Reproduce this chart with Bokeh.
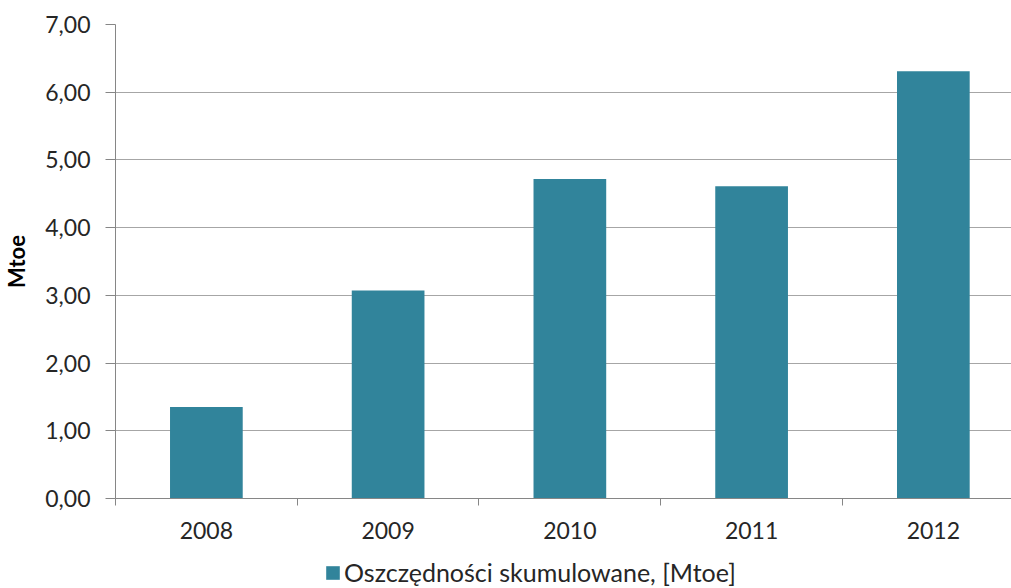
from bokeh.plotting import figure
from bokeh.layouts import column
from bokeh.models import ColumnDataSource, Range1d, FixedTicker, Legend, LegendItem
from bokeh.embed import file_html
from bokeh.resources import INLINE

years = ["2008", "2009", "2010", "2011", "2012"]
values = [1.35, 3.07, 4.72, 4.61, 6.31]
y_ticks = [0, 1, 2, 3, 4, 5, 6, 7]
y_labels = ["0,00", "1,00", "2,00", "3,00", "4,00", "5,00", "6,00", "7,00"]
series_name = "Oszczędności skumulowane, [Mtoe]"

FONT = "Lato"
BAR = "#31849b"
GRID = "#a6a6a6"
AXIS = "#868686"
TXT = "#262626"

centers = [i + 0.5 for i in range(len(years))]
src = ColumnDataSource(dict(x=centers, top=values))

p = figure(frame_width=896, frame_height=474, output_backend="svg", toolbar_location=None,
           x_range=Range1d(0, 4.93), y_range=Range1d(0, 7),
           min_border_left=115, min_border_top=24, min_border_right=0, min_border_bottom=60)
p.outline_line_color = None
p.background_fill_color = "white"

p.vbar(x="x", top="top", width=0.40, bottom=0, source=src, fill_color=BAR, line_color=None)

# y axis
p.yaxis.ticker = FixedTicker(ticks=y_ticks, minor_ticks=[])
p.yaxis.major_label_overrides = {t: l for t, l in zip(y_ticks, y_labels)}
p.yaxis.major_tick_out = 10
p.yaxis.major_tick_in = 0
p.yaxis.minor_tick_line_color = None
p.yaxis.axis_line_color = AXIS
p.yaxis.major_tick_line_color = AXIS
p.yaxis.major_label_text_font = FONT
p.yaxis.major_label_text_font_size = "23px"
p.yaxis.major_label_text_color = TXT
p.yaxis.major_label_standoff = 15
p.yaxis.axis_label = "Mtoe"
p.yaxis.axis_label_text_font = FONT
p.yaxis.axis_label_text_font_style = "bold"
p.yaxis.axis_label_text_font_size = "22px"
p.yaxis.axis_label_text_color = "black"
p.yaxis.axis_label_standoff = 12

# x axis
p.xaxis.ticker = FixedTicker(ticks=centers, minor_ticks=[0, 1, 2, 3, 4, 5])
p.xaxis.major_label_overrides = {c: y for c, y in zip(centers, years)}
p.xaxis.major_tick_line_color = None
p.xaxis.minor_tick_out = 7
p.xaxis.minor_tick_in = 0
p.xaxis.minor_tick_line_color = AXIS
p.xaxis.axis_line_color = AXIS
p.xaxis.major_label_text_font = FONT
p.xaxis.major_label_text_font_size = "23px"
p.xaxis.major_label_text_color = TXT
p.xaxis.major_label_standoff = 16

p.xgrid.grid_line_color = None
p.ygrid.grid_line_color = GRID
p.ygrid.ticker = FixedTicker(ticks=y_ticks)

# legend strip below the chart (proxy bar kept outside the strip's visible range)
p2 = figure(width=1011, height=30, output_backend="svg", toolbar_location=None,
            x_range=Range1d(100, 101), y_range=Range1d(100, 101),
            x_axis_location=None, y_axis_location=None,
            min_border_left=0, min_border_right=0, min_border_top=0, min_border_bottom=0)
p2.outline_line_color = None
p2.grid.visible = False
proxy = p2.vbar(x=[centers[0]], top=[values[0]], width=0.4, fill_color=BAR, line_color=None)

legend = Legend(items=[LegendItem(label=series_name, renderers=[proxy])], location=(209, 1),
                orientation="horizontal", border_line_color=None, background_fill_alpha=0,
                label_text_font=FONT, label_text_font_size="25px", label_text_color=TXT,
                glyph_width=17, glyph_height=17, label_standoff=3, padding=0, margin=0,
                label_height=25)
p2.add_layout(legend, "center")

open("out.html", "w").write(file_html(column(p, p2, spacing=0), INLINE))
